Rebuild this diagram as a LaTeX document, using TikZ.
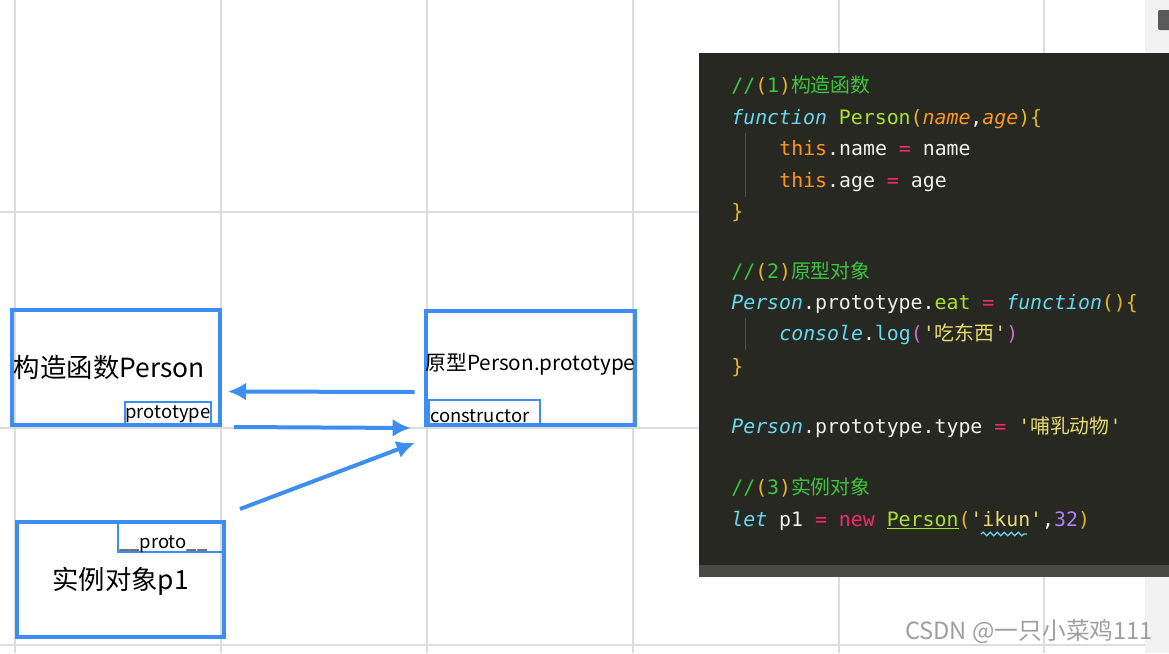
\documentclass[tikz,border=0pt]{standalone}
\usepackage{fontspec}
\setmainfont{Noto Sans CJK SC}
\newfontfamily\codefont[Ligatures=TeXOff]{DejaVu Sans Mono}
\newfontfamily\cjk{Noto Sans CJK SC}
\usetikzlibrary{calc}
\usetikzlibrary{arrows.meta,positioning,decorations.pathmorphing}

\definecolor{boxblue}{HTML}{3D8EF0}
\definecolor{gridgray}{HTML}{DCDCDC}
\definecolor{panel}{HTML}{272822}
\definecolor{panelshade}{HTML}{4A4A44}
\definecolor{cmt}{HTML}{3DC63D}
\definecolor{brk}{HTML}{E5B627}
\definecolor{brkb}{HTML}{C86FD0}
\definecolor{kwc}{HTML}{66D9EF}
\definecolor{fnc}{HTML}{A6E22E}
\definecolor{prm}{HTML}{FD971F}
\definecolor{opr}{HTML}{F92672}
\definecolor{str}{HTML}{E6DB74}
\definecolor{num}{HTML}{AE81FF}
\definecolor{plain}{HTML}{F2F2EC}

\begin{document}
\begin{tikzpicture}[x=0.2mm,y=-0.2mm,>=latex]
        \tikzset{box/.style={draw=boxblue, line width=0.8mm, inner sep=0pt, align=center},
        tag/.style={draw=boxblue, line width=0.4mm, inner sep=0pt, font=\fontsize{10.5}{12}\selectfont},
        code/.style={anchor=base west, inner sep=0pt, text=plain, font=\codefont\fontsize{11.3}{13}\selectfont},
        arr/.style={draw=boxblue, line width=0.8mm, -{Latex[length=3.6mm,width=3.6mm]}},
        grid/.style={draw=gridgray, line width=0.3mm},
        guide/.style={draw=gray!60!black, line width=0.2mm}
        }
        \useasboundingbox (0,0) rectangle (1169,653);

%%% background
        \fill[gray!10] (1145,0) rectangle (1169,653);
        \foreach \x in {15,221,427,633,839,1044} \draw[grid] (\x,0) -- (\x,653);
        \foreach \y in {212,428,645} \draw[grid] (0,\y) -- (1145,\y);
        \fill[gray!70!black, rounded corners=0.4mm] (1158,10) rectangle (1172,30);

%%% boxes
        \node [box, minimum width=41.6mm, minimum height=23mm, font=\fontsize{15}{18}\selectfont, text width=41.6mm, align=left, text depth=0.6mm] (ctor) at (116,367.5) {\hspace*{0.4mm}构造函数Person};
        \node [tag, anchor=south east, minimum width=17.2mm, minimum height=4.8mm] (ctor_tag) at ([xshift=-2mm]ctor.south east) {prototype};

        \node [box, minimum width=41.4mm, minimum height=22.8mm, font=\fontsize{11.8}{14}\selectfont, text depth=2.5mm] (proto) at (530.5,368) {原型Person.prototype};
        \node [tag, anchor=south west, minimum height=5.2mm, text width=21.6mm, align=left, inner xsep=0.3mm, text height=4.3mm, text depth=0.6mm] (proto_tag) at ([xshift=0.8mm]proto.south west) {constructor};

        \node [box, minimum width=41.4mm, minimum height=23mm, font=\fontsize{15}{18}\selectfont, text depth=0.3mm] (inst) at (120.5,579.5) {实例对象p1};
        \node [tag, anchor=north east, minimum height=6.2mm, text width=21mm, align=left, inner xsep=0.2mm, text height=5.2mm, text depth=0.6mm] (inst_tag) at (inst.north east) {\_\_proto\_\_};

%%% paths
        \draw[arr] ($(proto.west)+(-9,24)$) -- ($(ctor.east)+(6,24)$);
        \draw[arr] ($(ctor.south east)+(12,0)$) -- ($(proto.south west)+(-13,1)$);
        \draw[arr] ($(inst.north east)+(14,-11)$) -- ($(proto.south west)+(-9,16)$);

%%% code panel
        \fill[panel] (699,53) rectangle (1169,565);
        \fill[panelshade] (699,565) rectangle (1169,577);
        \draw[guide] (745,133) -- (745,197);
        \draw[guide] (745,318) -- (745,350);

        \node [code] (l1) at (731,92) {\textcolor{cmt}{//}\textcolor{brk}{(}\textcolor{cmt}{1}\textcolor{brk}{)}\textcolor{cmt}{\cjk 构造函数}};
        \node [code] (l2) at (731,124) {\textcolor{kwc}{\itshape function} \textcolor{fnc}{Person}\textcolor{brk}{(}\textcolor{prm}{\itshape name},\textcolor{prm}{\itshape age}\textcolor{brk}{)\{}};
        \node [code] (l3) at (779,155) {\textcolor{prm}{this}.name \textcolor{opr}{=} name};
        \node [code] (l4) at (779,187) {\textcolor{prm}{this}.age \textcolor{opr}{=} age};
        \node [code] (l5) at (731,218) {\textcolor{brk}{\}}};
        \node [code] (l6) at (731,278) {\textcolor{cmt}{//}\textcolor{brk}{(}\textcolor{cmt}{2}\textcolor{brk}{)}\textcolor{cmt}{\cjk 原型对象}};
        \node [code] (l7) at (731,309) {\textcolor{kwc}{\itshape Person}.prototype.\textcolor{fnc}{eat} \textcolor{opr}{=} \textcolor{kwc}{\itshape function}\textcolor{brk}{()\{}};
        \node [code] (l8) at (779,340) {\textcolor{kwc}{\itshape console}.\textcolor{kwc}{log}\textcolor{brkb}{(}\textcolor{str}{'{\cjk 吃东西}'}\textcolor{brkb}{)}};
        \node [code] (l9) at (731,373) {\textcolor{brk}{\}}};
        \node [code] (l10) at (731,433) {\textcolor{kwc}{\itshape Person}.prototype.type \textcolor{opr}{=} \textcolor{str}{'{\cjk 哺乳动物}'}};
        \node [code] (l11) at (731,494) {\textcolor{cmt}{//}\textcolor{brk}{(}\textcolor{cmt}{3}\textcolor{brk}{)}\textcolor{cmt}{\cjk 实例对象}};
        \node [code] (l12) at (731,526) {\textcolor{kwc}{\itshape let} p1 \textcolor{opr}{=} \textcolor{opr}{new} \textcolor{fnc}{\underline{Person}}\textcolor{brk}{(}\textcolor{str}{'ikun'},\textcolor{num}{32}\textcolor{brk}{)}};
        \draw[kwc, line width=0.25mm, decorate, decoration={snake, amplitude=0.35mm, segment length=1.4mm}] (981,534) -- (1027,534);

%%% watermark
        \node [text=gray!75, font=\fontsize{13.5}{16}\selectfont] (mark) at (1029,632) {CSDN @一只小菜鸡111};
\end{tikzpicture}
\end{document}
